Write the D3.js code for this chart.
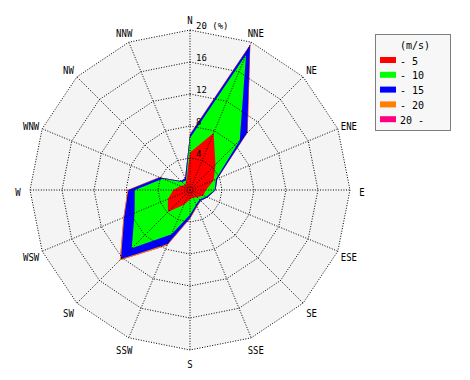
<!DOCTYPE html>
<html>
<head>
<meta charset="utf-8">
<script src="https://cdn.jsdelivr.net/npm/d3@7"></script>
<style>
html,body{margin:0;padding:0;background:#fff;}
svg{display:block;}
text{font-family:"DejaVu Sans Mono","Liberation Mono",monospace;fill:#000;}
</style>
</head>
<body>
<svg id="chart" width="470" height="380"></svg>
<script>
// ---- data ----
const directions = ["N","NNE","NE","ENE","E","ESE","SE","SSE","S","SSW","SW","WSW","W","WNW","NW","NNW"];
const speedClasses = ["- 5","- 10","- 15","- 20","20 -"];
const classColors = ["#ff0000","#00ff00","#0000ff","#ff8000","#ff0080"];
// frequency (%) per speed class, per direction (N .. NNW)
const speed0_5   = [4.7, 7.7, 4.5, 3.2, 2.0, 1.8, 1.3, 1.0, 1.2, 2.0, 3.9, 3.0, 2.1, 1.3, 0.9, 1.2];
const speed5_10  = [1.8,10.6, 4.3, 0.3, 1.1, 0.4, 0.4, 1.0, 1.9, 4.0, 6.4, 4.5, 4.8, 2.4, 0.5, 0.1];
const speed10_15 = [0.4, 1.3, 1.3, 0.2, 0.1, 0.2, 0.2, 0.2, 0.4, 1.3, 1.9, 1.4, 0.8, 0.4, 0.2, 0.3];
const speed15_20 = [0.1, 0.1, 0.1, 0.0, 0.0, 0.0, 0.0, 0.1, 0.1, 0.2, 0.2, 0.1, 0.1, 0.1, 0.0, 0.0];
const speed20up  = [0.0, 0.0, 0.0, 0.0, 0.0, 0.0, 0.0, 0.0, 0.0, 0.0, 0.0, 0.0, 0.0, 0.0, 0.0, 0.0];
const ringTicks = [4, 8, 12, 16, 20];
const ringLabels = ["4","8","12","16","20 (%)"];
const unitLabel = "(m/s)";

// ---- layout ----
const svg = d3.select("#chart");
const cx = 190, cy = 190;
const r = d3.scaleLinear().domain([0, 20]).range([0, 160]);
const ang = d3.scalePoint().domain(directions).range([0, 2*Math.PI*15/16]);

const series = [speed0_5, speed5_10, speed10_15, speed15_20, speed20up];
const table = directions.map((d, i) => {
  const o = {dir: d};
  speedClasses.forEach((k, j) => o[k] = series[j][i]);
  return o;
});
const stacked = d3.stack().keys(speedClasses)(table);

const g = svg.append("g").attr("transform", `translate(${cx},${cy})`);

function ringPath(v){
  return d3.lineRadial().curve(d3.curveLinearClosed)
    .angle(d => ang(d)).radius(() => r(v))(directions);
}
// background polygon
g.append("path").attr("d", ringPath(20)).attr("fill", "#f4f4f4").attr("stroke", "none");

// data polygons (largest cumulative first)
const area = d3.lineRadial().curve(d3.curveLinearClosed)
  .angle(d => ang(d.data.dir)).radius(d => r(d[1]));
for (let j = stacked.length - 1; j >= 0; j--) {
  g.append("path").attr("d", area(stacked[j])).attr("fill", classColors[j]).attr("stroke", "none");
}

// grid
ringTicks.forEach(v => {
  g.append("path").attr("d", ringPath(v)).attr("fill", "none")
    .attr("stroke", "#000").attr("stroke-width", 1).attr("stroke-dasharray", "1,1.6");
});
directions.forEach(d => {
  const a = ang(d);
  g.append("line").attr("x1", 0).attr("y1", 0)
    .attr("x2", r(20) * Math.sin(a)).attr("y2", -r(20) * Math.cos(a))
    .attr("stroke", "#000").attr("stroke-width", 1).attr("stroke-dasharray", "1,1.6");
});

// ring labels
ringTicks.forEach((v, i) => {
  g.append("text").attr("x", 6).attr("y", -r(v) - 1)
    .attr("font-size", 9).text(ringLabels[i]);
});

// direction labels
directions.forEach(d => {
  const a = ang(d);
  const rr = 172;
  g.append("text")
    .attr("x", rr * Math.sin(a)).attr("y", -rr * Math.cos(a) + 2)
    .attr("text-anchor", "middle").attr("dominant-baseline", "central")
    .attr("font-size", 10)
    .attr("textLength", d.length * 5.4).attr("lengthAdjust", "spacingAndGlyphs")
    .text(d);
});

// legend
const lg = svg.append("g");
lg.append("rect").attr("x", 375.5).attr("y", 34.5).attr("width", 75).attr("height", 96)
  .attr("fill", "#f7f7f7").attr("stroke", "#000").attr("stroke-dasharray", "1,1");
lg.append("text").attr("x", 415).attr("y", 45).attr("text-anchor", "middle")
  .attr("dominant-baseline", "central").attr("font-size", 10).text(unitLabel);
speedClasses.forEach((k, i) => {
  const y = 60 + i * 14.8;
  lg.append("rect").attr("x", 380).attr("y", y - 3).attr("width", 16).attr("height", 6)
    .attr("fill", classColors[i]);
  lg.append("text").attr("x", 400).attr("y", y + 1).attr("dominant-baseline", "central")
    .attr("font-size", 10).text(k);
});
</script>
</body>
</html>
